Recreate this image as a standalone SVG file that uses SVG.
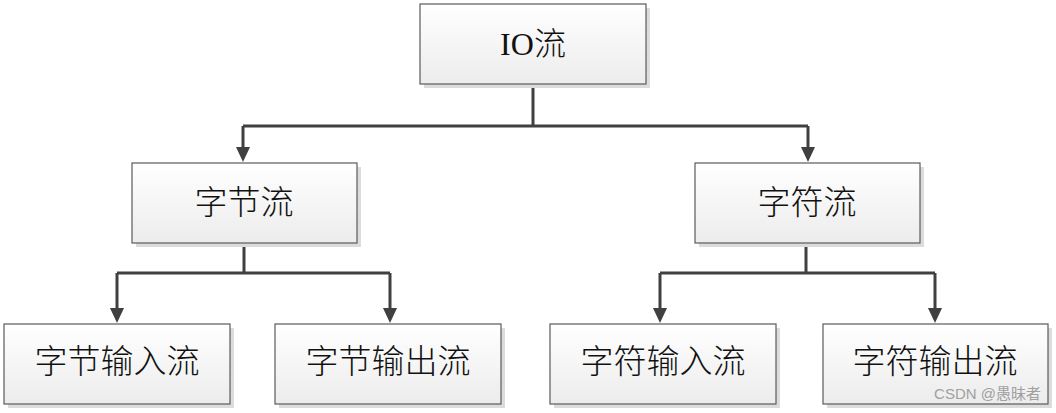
<svg xmlns="http://www.w3.org/2000/svg" width="1056" height="413" viewBox="0 0 1056 413">
<style>
.box{fill:url(#g);stroke:#5a5a5a;stroke-width:1.2}
.sh{fill:#dcdcdc}
.t{font-family:"Liberation Serif","Noto Sans CJK SC",serif;font-size:33px;font-weight:300;fill:#111;text-anchor:middle;dominant-baseline:central}
.c{stroke:#404040;stroke-width:3;fill:none}
.wm{font-family:"Liberation Sans","Noto Sans CJK SC",sans-serif;font-size:15px;fill:#a0a0a0;text-anchor:end}
</style>
<defs>
<linearGradient id="g" x1="0" y1="0" x2="0" y2="1">
<stop offset="0" stop-color="#ffffff"/>
<stop offset="1" stop-color="#ececec"/>
</linearGradient>
</defs>
<rect width="1056" height="413" fill="#fff"/>
<g id="connectors">
<path class="c" d="M533,84 V126 M243,126 H808"/>
<path class="c" d="M243,126 V150"/>
<path class="c" d="M808,126 V150"/>
<path class="c" d="M244,243 V273 M117,273 H390 M806,243 V273 M660,273 H935"/>
<path class="c" d="M117,273 V312 M390,273 V312 M660,273 V312 M935,273 V312"/>
<g fill="#404040">
<path d="M236,147 L250,147 L243,162 Z"/>
<path d="M801,147 L815,147 L808,162 Z"/>
<path d="M110,308 L124,308 L117,323 Z"/>
<path d="M383,308 L397,308 L390,323 Z"/>
<path d="M653,308 L667,308 L660,323 Z"/>
<path d="M928,308 L942,308 L935,323 Z"/>
</g>
</g>
<g id="io">
<rect class="sh" x="424" y="8" width="226" height="80"/>
<rect class="box" x="420" y="4" width="226" height="80"/>
<text class="t" x="533" y="44" style="font-size:32px">IO流</text>
</g>
<g id="byte">
<rect class="sh" x="136" y="167" width="225" height="80"/>
<rect class="box" x="132" y="163" width="225" height="80"/>
<text class="t" x="244" y="203">字节流</text>
</g>
<g id="char">
<rect class="sh" x="699" y="167" width="225" height="80"/>
<rect class="box" x="695" y="163" width="225" height="80"/>
<text class="t" x="807" y="203">字符流</text>
</g>
<g id="byteIn">
<rect class="sh" x="8" y="328" width="226" height="80"/>
<rect class="box" x="4" y="324" width="226" height="80"/>
<text class="t" x="117" y="362">字节输入流</text>
</g>
<g id="byteOut">
<rect class="sh" x="279" y="328" width="226" height="80"/>
<rect class="box" x="275" y="324" width="226" height="80"/>
<text class="t" x="388" y="362">字节输出流</text>
</g>
<g id="charIn">
<rect class="sh" x="554" y="328" width="226" height="80"/>
<rect class="box" x="550" y="324" width="226" height="80"/>
<text class="t" x="663" y="362">字符输入流</text>
</g>
<g id="charOut">
<rect class="sh" x="827" y="328" width="225" height="80"/>
<rect class="box" x="823" y="324" width="225" height="80"/>
<text class="t" x="935" y="362">字符输出流</text>
</g>
<text class="wm" x="1041" y="399">CSDN @愚昧者</text>
</svg>
